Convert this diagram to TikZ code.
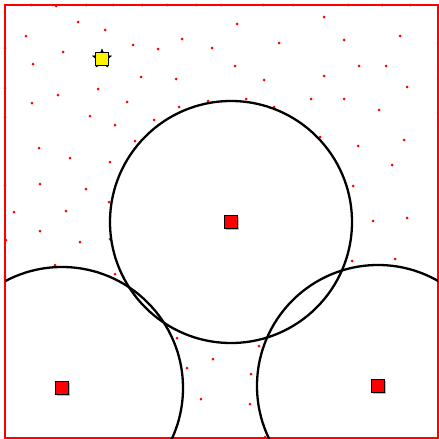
\documentclass[tikz,border=0pt]{standalone}
\usepackage{xcolor}
\usepackage{tikz}
\usetikzlibrary{shapes.geometric,shadows}

\tikzset{
  dot/.style={circle,fill=red,inner sep=0pt,minimum size=3pt},
  base/.style={draw=black,fill=red,line width=0.8pt,inner sep=0pt,minimum size=13pt,
    drop shadow={shadow xshift=1pt,shadow yshift=-1pt,fill=black!45,opacity=0.6}},
  reach/.style={line width=2.3pt},
}

\begin{document}
\begin{tikzpicture}[x=1pt,y=-1pt]
  \useasboundingbox (0,0) rectangle (439,439);
  % Feld
  \draw[red,line width=1.5pt] (5,5) rectangle (438,438);
  % Messpunkte
  \foreach \x/\y in {31/5,56/6,86/5,113/5,142/5,167/5,196/5,221/5,263/5,293/5,348/5,382/5,410/5,
      5/48,5/88,5/117,5/185,6/240,5/277,438/43,438/78,438/113,265/437,
      78/22,105/30,26/36,63/52,33/64,133/45,158/49,182/39,212/48,141/77,176/79,
      98/89,58/95,32/103,127/102,179/107,208/101,90/116,115/125,154/120,39/148,135/141,
      237/24,324/17,279/43,344/40,400/36,235/66,359/66,386/66,264/80,324/76,407/87,
      246/99,311/99,344/99,274/107,379/110,320/137,358/146,404/140,
      70/158,110/162,40/184,86/189,109/202,14/212,66/211,40/231,80/242,110/239,55/265,115/274,
      392/165,353/186,373/221,407/218,352/261,395/259,
      177/338,213/359,187/368,201/399,259/346,251/374,250/404}
    \node[dot] at (\x,\y) {};
  % Basisstationen
  \node[base] (b1) at (231,222) {};
  \node[base] (b2) at (62,388) {};
  \node[base] (b3) at (378,386) {};
  % Reichweiten
  \begin{scope}
    \clip (5,5) rectangle (438,438);
    \draw[reach] (b1.center) circle (121);
    \draw[reach] (b2.center) circle (121);
    \draw[reach] (b3.center) circle (121);
  \end{scope}
  % Senke
  \node[star,star points=5,star point ratio=2.2,draw=black,fill=black,inner sep=0pt,minimum size=20pt] (sinkstar) at (102,59) {};
  \node[draw=black,fill=yellow,line width=0.8pt,inner sep=0pt,minimum size=13pt] (sink) at (102,59) {};
\end{tikzpicture}
\end{document}
